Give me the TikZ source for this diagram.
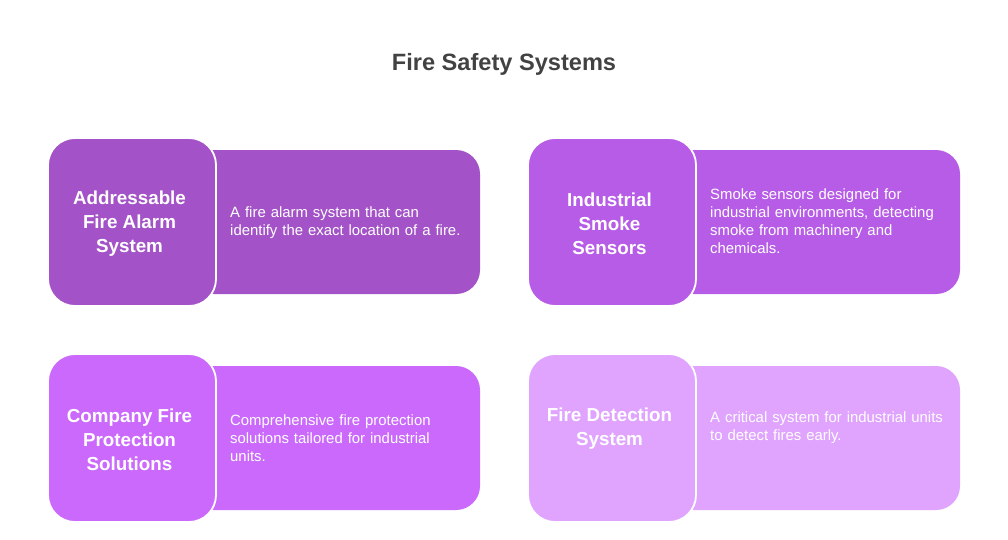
\documentclass[tikz,border=0pt]{standalone}
\usepackage{fontspec}
\setmainfont{Liberation Sans}
\definecolor{cA}{HTML}{A353C7}
\definecolor{cB}{HTML}{B75CE6}
\definecolor{cC}{HTML}{CB69FC}
\definecolor{cD}{HTML}{E0A4FE}
\definecolor{ttl}{HTML}{424242}
\tikzset{
 x=1pt,y=-1pt,
 bodybox/.style={minimum width=290pt,minimum height=144pt,rounded corners=24pt,draw=none,inner sep=0pt},
 headbox/.style={minimum width=168pt,minimum height=168pt,rounded corners=27pt,draw=white,line width=1.8pt,inner sep=0pt},
 headtext/.style={align=center,text=white,inner sep=0pt,font=\bfseries\fontsize{18.8}{24}\selectfont},
 desc/.style={anchor=west,align=left,text=white,text width=245pt,inner sep=0pt,font=\fontsize{14.9}{18}\selectfont},
 titlenode/.style={text=ttl,font=\bfseries\fontsize{23.6}{28}\selectfont}
}
\begin{document}
\begin{tikzpicture}
\useasboundingbox (0,0) rectangle (1008,539);
\node[titlenode] (title) at (504,64.5) {Fire Safety Systems};
\node[bodybox,fill=cA] (b1) at (335,222) {};
\node[headbox,fill=cA] (h1) at (132,222) {};
\node[headtext] (t1) at (129.5,224) {Addressable\\Fire Alarm\\System};
\node[desc] (d1) at (230,222.8) {A fire alarm system that can\\identify the exact location of a fire.};
\node[bodybox,fill=cB] (b2) at (815,222) {};
\node[headbox,fill=cB] (h2) at (612,222) {};
\node[headtext] (t2) at (609.5,224) {Industrial\\Smoke\\Sensors};
\node[desc] (d2) at (710,221.2) {Smoke sensors designed for\\industrial environments, detecting\\smoke from machinery and\\chemicals.};
\node[bodybox,fill=cC] (b3) at (335,438) {};
\node[headbox,fill=cC] (h3) at (132,438) {};
\node[headtext] (t3) at (129.5,440) {Company Fire\\Protection\\Solutions};
\node[desc] (d3) at (230,438) {Comprehensive fire protection\\solutions tailored for industrial\\units.};
\node[bodybox,fill=cD] (b4) at (815,438) {};
\node[headbox,fill=cD] (h4) at (612,438) {};
\node[headtext] (t4) at (609.5,429) {Fire Detection\\System};
\node[desc] (d4) at (710,427.8) {A critical system for industrial units\\to detect fires early.};
\end{tikzpicture}
\end{document}
